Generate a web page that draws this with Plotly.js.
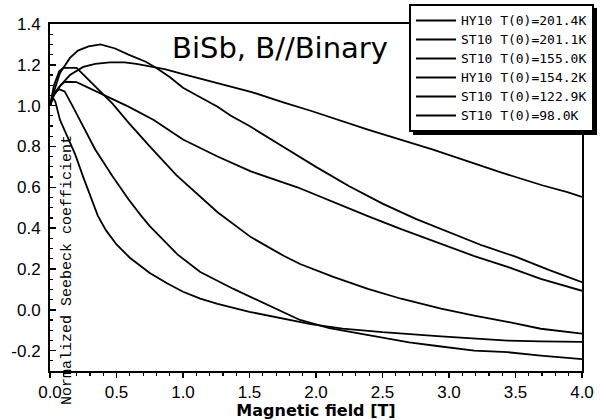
<!DOCTYPE html>
<html>
<head>
<meta charset="utf-8">
<script src="https://cdn.plot.ly/plotly-3.0.1.min.js"></script>
<style>html,body{margin:0;padding:0;background:#fff;}#chart{width:606px;height:420px;}</style>
</head>
<body>
<div id="chart"></div>
<script>
// ---- data ----
const seriesNames = ["HY10 T(0)=201.4K", "ST10 T(0)=201.1K", "ST10 T(0)=155.0K", "HY10 T(0)=154.2K", "ST10 T(0)=122.9K", "ST10 T(0)=98.0K"];

const fieldA = [0, 0.03, 0.08, 0.15, 0.25, 0.34, 0.45, 0.56, 0.65, 0.75, 0.87, 1.0, 1.26, 1.51, 1.76, 1.96, 2.39, 2.88, 3.39, 3.7, 3.89, 4.0];
const seebeckA = [1.0, 1.05, 1.10, 1.15, 1.19, 1.205, 1.212, 1.212, 1.205, 1.192, 1.178, 1.155, 1.112, 1.068, 1.015, 0.975, 0.883, 0.785, 0.673, 0.61, 0.576, 0.553];

const fieldB = [0, 0.03, 0.075, 0.15, 0.21, 0.29, 0.38, 0.49, 0.59, 0.72, 0.8, 0.9, 1.0, 1.13, 1.26, 1.36, 1.5, 1.75, 2.0, 2.25, 2.5, 2.75, 3.0, 3.25, 3.5, 3.75, 4.0];
const seebeckB = [1.0, 1.07, 1.16, 1.234, 1.27, 1.29, 1.30, 1.28, 1.25, 1.215, 1.185, 1.14, 1.088, 1.04, 0.995, 0.95, 0.9, 0.8, 0.7, 0.605, 0.52, 0.445, 0.38, 0.315, 0.26, 0.195, 0.135];

const fieldC = [0, 0.03, 0.08, 0.11, 0.2, 0.3, 0.41, 0.59, 0.78, 1.0, 1.26, 1.51, 1.86, 2.13, 2.39, 2.64, 3.0, 3.19, 3.44, 3.69, 4.0];
const seebeckC = [1.0, 1.06, 1.10, 1.117, 1.115, 1.085, 1.05, 0.995, 0.93, 0.834, 0.751, 0.678, 0.6, 0.527, 0.459, 0.395, 0.31, 0.263, 0.21, 0.151, 0.093];

const fieldD = [0, 0.03, 0.07, 0.1, 0.2, 0.27, 0.34, 0.47, 0.59, 0.75, 0.95, 1.1, 1.26, 1.51, 1.76, 1.88, 2.13, 2.39, 2.64, 2.94, 3.19, 3.44, 3.69, 4.0];
const seebeckD = [1.0, 1.1, 1.17, 1.185, 1.185, 1.14, 1.09, 1.01, 0.917, 0.8, 0.66, 0.57, 0.478, 0.356, 0.263, 0.224, 0.161, 0.102, 0.054, 0.005, -0.029, -0.059, -0.093, -0.117];

const fieldE = [0, 0.03, 0.07, 0.11, 0.16, 0.226, 0.34, 0.47, 0.59, 0.68, 0.75, 0.96, 1.13, 1.38, 1.63, 1.88, 2.1, 2.4, 2.7, 2.94, 3.19, 3.44, 3.69, 4.0];
const seebeckE = [1.0, 1.06, 1.08, 1.07, 1.01, 0.93, 0.785, 0.654, 0.541, 0.465, 0.41, 0.27, 0.185, 0.102, 0.025, -0.05, -0.09, -0.125, -0.16, -0.18, -0.2, -0.208, -0.225, -0.242];

const fieldF = [0, 0.02, 0.04, 0.075, 0.13, 0.19, 0.25, 0.3, 0.36, 0.42, 0.5, 0.6, 0.75, 0.88, 1.0, 1.13, 1.26, 1.5, 1.76, 1.96, 2.2, 2.5, 2.94, 3.19, 3.44, 3.69, 4.0];
const seebeckF = [1.0, 1.04, 1.02, 0.93, 0.85, 0.76, 0.65, 0.56, 0.46, 0.39, 0.32, 0.255, 0.18, 0.13, 0.088, 0.055, 0.029, -0.01, -0.044, -0.07, -0.092, -0.11, -0.13, -0.141, -0.151, -0.155, -0.157];

const xTickVals = [0, 0.5, 1.0, 1.5, 2.0, 2.5, 3.0, 3.5, 4.0];
const xTickText = ["0.0", "0.5", "1.0", "1.5", "2.0", "2.5", "3.0", "3.5", "4.0"];
const yTickVals = [1.4, 1.2, 1.0, 0.8, 0.6, 0.4, 0.2, 0.0, -0.2];
const yTickText = ["1.4", "1.2", "1.0", "0.8", "0.6", "0.4", "0.2", "0.0", "-0.2"];

// ---- build traces ----
const fields = [fieldA, fieldC, fieldB, fieldD, fieldE, fieldF];
const values = [seebeckA, seebeckC, seebeckB, seebeckD, seebeckE, seebeckF];
const traces = seriesNames.map((n, i) => ({
  x: fields[i], y: values[i], type: 'scatter', mode: 'lines',
  name: '<span style="font-size:13px">' + n + '</span>',
  line: {color: '#000', width: 1.8}
}));

const M = {l: 50, r: 24, t: 24, b: 49};
const W = 606, H = 420;
const px2x = p => (p - M.l) / (W - M.l - M.r);
const px2y = p => (H - M.b - p) / (H - M.t - M.b);

const layout = {
  width: W, height: H,
  margin: {l: M.l, r: M.r, t: M.t, b: M.b, pad: 0, autoexpand: false},
  paper_bgcolor: '#fff', plot_bgcolor: '#fff',
  showlegend: true,
  title: {
    text: 'BiSb, B//Binary',
    font: {family: 'DejaVu Sans', size: 29, color: '#000'},
    xref: 'paper', yref: 'paper', x: px2x(280), y: px2y(48),
    xanchor: 'center', yanchor: 'middle'
  },
  xaxis: {
    range: [0, 4], tickmode: 'array', tickvals: xTickVals, ticktext: xTickText,
    ticks: 'outside', ticklen: 5, tickwidth: 1.5, tickcolor: '#000',
    showline: true, linewidth: 2, linecolor: '#000', mirror: true,
    showgrid: false, zeroline: false,
    tickfont: {family: 'Liberation Sans, Arial, sans-serif', size: 17, color: '#000'},
    minor: {tickmode: 'linear', tick0: 0, dtick: 0.1, ticks: 'outside', ticklen: 3, tickwidth: 1.2, tickcolor: '#000', showgrid: false},
    title: {text: 'Magnetic field [T]', font: {family: 'DejaVu Sans', size: 16, weight: 'bold', color: '#000'}, standoff: 0}
  },
  yaxis: {
    range: [-0.3, 1.4], tickmode: 'array', tickvals: yTickVals, ticktext: yTickText,
    ticks: 'inside', ticklen: 6, tickwidth: 1.5, tickcolor: '#000',
    showline: true, linewidth: 2, linecolor: '#000', mirror: true,
    showgrid: false, zeroline: false, ticklabelstandoff: 4,
    tickfont: {family: 'Liberation Sans, Arial, sans-serif', size: 17, color: '#000'},
    minor: {tickmode: 'linear', tick0: 0, dtick: 0.05, ticks: 'inside', ticklen: 3, tickwidth: 1.2, tickcolor: '#000', showgrid: false}
  },
  legend: {
    x: px2x(409), y: px2y(4), xanchor: 'left', yanchor: 'top',
    bgcolor: '#fff', bordercolor: '#000', borderwidth: 2,
    font: {family: 'DejaVu Sans Mono, monospace', size: 12, color: '#000'},
    itemwidth: 40, tracegroupgap: 0
  },
  shapes: [
    {type: 'rect', xref: 'paper', yref: 'paper', layer: 'above',
     x0: px2x(413), x1: px2x(597), y0: px2y(135), y1: px2y(7),
     fillcolor: '#000', line: {width: 0}}
  ],
  annotations: [
    {text: 'Normalized Seebeck coefficient', xref: 'paper', yref: 'paper',
     x: px2x(67), y: px2y(270), xanchor: 'center', yanchor: 'middle',
     textangle: -90, showarrow: false,
     font: {family: 'Liberation Mono, monospace', size: 15, color: '#000'}}
  ]
};

Plotly.newPlot('chart', traces, layout, {displayModeBar: false, staticPlot: true}).then(() => {
  // fit the drop shadow to the legend box actually drawn
  const bg = document.querySelector('.legend .bg');
  if (!bg) return;
  const r = bg.getBoundingClientRect();
  const c = document.getElementById('chart').getBoundingClientRect();
  const left = r.left - c.left, top = r.top - c.top, right = r.right - c.left, bottom = r.bottom - c.top;
  return Plotly.relayout('chart', {
    'shapes[0].x0': px2x(left + 3), 'shapes[0].x1': px2x(right + 4),
    'shapes[0].y0': px2y(bottom + 4), 'shapes[0].y1': px2y(top + 3)
  });
});
</script>
</body>
</html>
